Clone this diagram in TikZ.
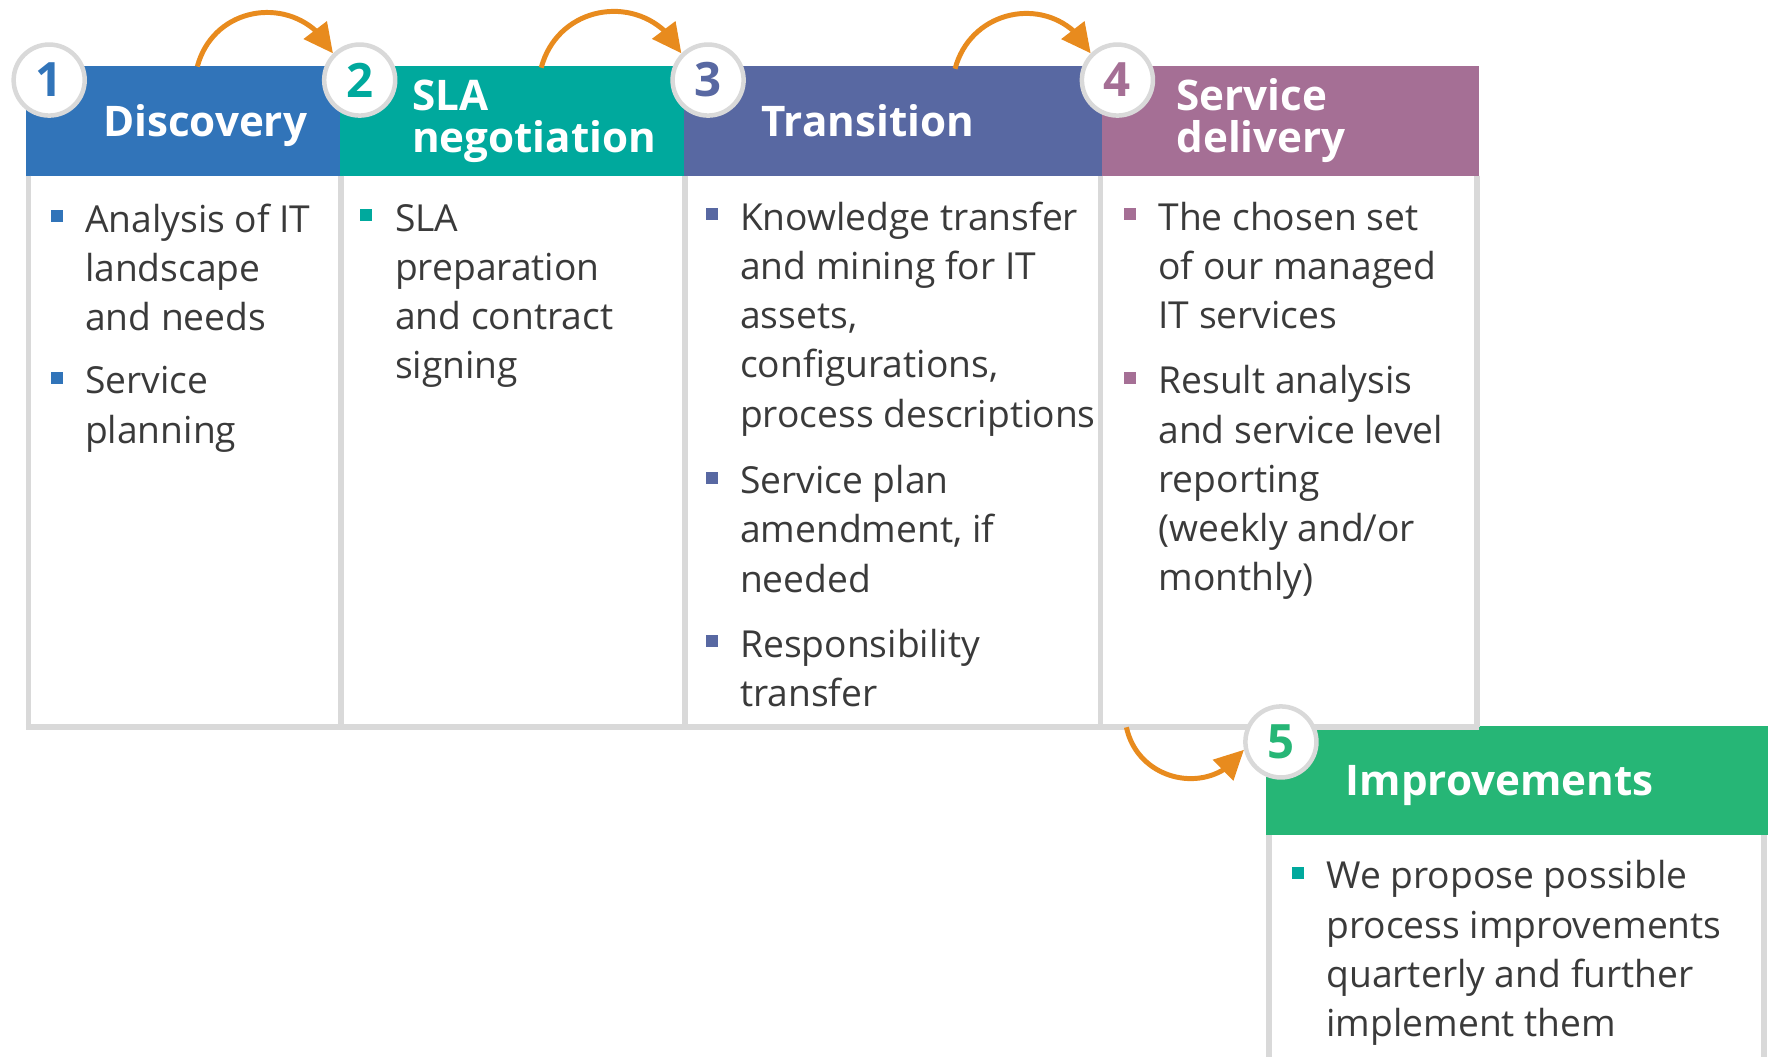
\documentclass[tikz,border=0pt]{standalone}
\usepackage{fontspec}
\setmainfont{Open Sans}
\usetikzlibrary{arrows.meta,bending}
\definecolor{cblue}{HTML}{3174B9}
\definecolor{cteal}{HTML}{00A99D}
\definecolor{cslate}{HTML}{5868A2}
\definecolor{cmauve}{HTML}{A56F95}
\definecolor{cgreen}{HTML}{26B676}
\definecolor{corange}{HTML}{E88B1E}
\definecolor{cgray}{HTML}{D9D9D9}
\definecolor{ctext}{HTML}{3A3A3A}
\begin{document}
\begin{tikzpicture}[x=0.5pt,y=0.5pt,
  hdr/.style={rectangle, anchor=north west, inner sep=0, outer sep=0, minimum height=48.65pt},
  htxt/.style={anchor=north west, inner sep=0, text=white, font=\fontsize{18.7}{18.5}\selectfont\bfseries, align=left},
  btxt/.style={anchor=north west, inner sep=0, text=ctext, font=\fontsize{16.5}{21.8}\selectfont, align=left},
  bul/.style={rectangle, inner sep=0, minimum size=5.3pt},
  num/.style={circle, draw=cgray, line width=2pt, fill=white, minimum size=31.5pt, inner sep=0, font=\fontsize{21}{21}\selectfont\bfseries},
  sepline/.style={draw=cgray, line width=2.4pt},
  arr/.style={draw=corange, line width=2.2pt, -{Triangle[length=13pt,width=12.5pt]}}
]
\useasboundingbox (0,0) rectangle (1568,-937);

% header bars
\node[hdr, fill=cblue,  minimum width=139.15pt] (h1) at (23,-58.5) {};
\node[hdr, fill=cteal,  minimum width=152.65pt] (h2) at (301.3,-58.5) {};
\node[hdr, fill=cslate, minimum width=185.45pt] (h3) at (606.6,-58.5) {};
\node[hdr, fill=cmauve, minimum width=167.25pt] (h4) at (977.5,-58.5) {};
\node[hdr, fill=cgreen, minimum width=222.5pt, minimum height=48.3pt] (h5) at (1123,-644) {};

% header titles
\node[htxt] (t1) at (91,-80.6) {\rule{0pt}{20pt}Discovery};
\node[htxt] (t2) at (365,-57.6) {\rule{0pt}{20pt}SLA\\negotiation};
\node[htxt] (t3) at (675,-80.6) {\rule{0pt}{20pt}Transition};
\node[htxt] (t4) at (1043,-57.6) {\rule{0pt}{20pt}Service\\delivery};
\node[htxt] (t5) at (1193,-665) {\rule{0pt}{20pt}Improvements};

% body frame lines
\coordinate (v0t) at (25.4,-155.8);  \coordinate (v0b) at (25.4,-644.5);
\coordinate (v1t) at (302.4,-155.8); \coordinate (v1b) at (302.4,-644.5);
\coordinate (v2t) at (607.6,-155.8); \coordinate (v2b) at (607.6,-644.5);
\coordinate (v3t) at (976,-155.8);   \coordinate (v3b) at (976,-644.5);
\coordinate (v4t) at (1309.8,-155.8);\coordinate (v4b) at (1309.8,-644.5);
\coordinate (bl) at (23,-644.5); \coordinate (br) at (1312,-644.5);
\draw[sepline] (v0t) -- (v0b);
\draw[sepline] (v1t) -- (v1b);
\draw[sepline] (v2t) -- (v2b);
\draw[sepline] (v3t) -- (v3b);
\draw[sepline] (v4t) -- (v4b);
\draw[sepline, line width=2.65pt] (bl) -- (br);
\coordinate (w0t) at (1125.5,-740.6); \coordinate (w0b) at (1125.5,-937);
\coordinate (w1t) at (1564.5,-740.6); \coordinate (w1b) at (1564.5,-937);
\draw[sepline] (w0t) -- (w0b);
\draw[sepline] (w1t) -- (w1b);

% body text
\node[btxt] (b1a) at (75,-169.5) {\rule{0pt}{18pt}Analysis of IT\\landscape\\and needs};
\node[btxt] (b1b) at (75,-313) {\rule{0pt}{18pt}Service\\planning};
\node[btxt] (b2a) at (350,-168.5) {\rule{0pt}{18pt}SLA\\preparation\\and contract\\signing};
\node[btxt] (b3a) at (656,-168) {\rule{0pt}{18pt}Knowledge transfer\\and mining for IT\\assets,\\configurations,\\process descriptions};
\node[btxt] (b3b) at (656,-401.5) {\rule{0pt}{18pt}Service plan\\amendment, if\\needed};
\node[btxt] (b3c) at (656,-546.4) {\rule{0pt}{18pt}Responsibility\\transfer};
\node[btxt] (b4a) at (1027,-168) {\rule{0pt}{18pt}The chosen set\\of our managed\\IT services};
\node[btxt] (b4b) at (1027,-313) {\rule{0pt}{18pt}Result analysis\\and service level\\reporting\\(weekly and/or\\monthly)};
\node[btxt] (b5a) at (1176,-752) {\rule{0pt}{18pt}We propose possible\\process improvements\\quarterly and further\\implement them};

% bullets
\node[bul, fill=cblue]  (p1a) at (50.3,-191.5) {};
\node[bul, fill=cblue]  (p1b) at (50.3,-335) {};
\node[bul, fill=cteal]  (p2a) at (325,-190.5) {};
\node[bul, fill=cslate] (p3a) at (631.3,-190) {};
\node[bul, fill=cslate] (p3b) at (631.3,-423.5) {};
\node[bul, fill=cslate] (p3c) at (631.3,-568.4) {};
\node[bul, fill=cmauve] (p4a) at (1002,-190) {};
\node[bul, fill=cmauve] (p4b) at (1002,-335) {};
\node[bul, fill=cteal]  (p5a) at (1151.5,-774) {};

% number circles
\node[num, text=cblue]  (c1) at (43.6,-71) {1};
\node[num, text=cteal]  (c2) at (319,-71) {2};
\node[num, text=cslate] (c3) at (628,-71) {3};
\node[num, text=cmauve] (c4) at (991,-71) {4};
\node[num, text=cgreen] (c5) at (1136,-658) {5};

% arrows
\coordinate (s1) at (175,-59);
\coordinate (s2) at (480,-60);
\coordinate (s3) at (847,-61);
\coordinate (s4) at (999,-645);
\draw[arr] (s1) to[out=75, in=117, looseness=1.27] (c2.135);
\draw[arr] (s2) to[out=75, in=117, looseness=1.27] (c3.135);
\draw[arr] (s3) to[out=75, in=117, looseness=1.27] (c4.135);
\draw[arr] (s4) to[out=-78, in=237, looseness=1.22] (c5.192);
\end{tikzpicture}
\end{document}
